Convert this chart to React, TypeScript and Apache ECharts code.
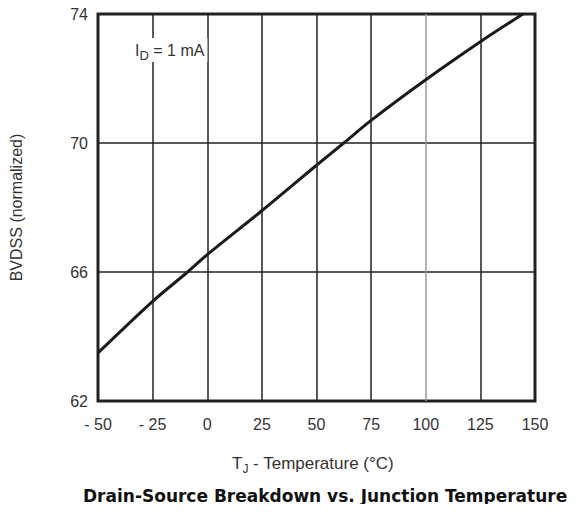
import React, { useEffect, useRef } from "react";
import * as echarts from "echarts";

const temps = [-50, -25, -9, 0, 25, 50, 62.5, 75, 100, 125, 144.5];
const bvdss = [63.49, 65.09, 66.0, 66.54, 67.9, 69.31, 70.0, 70.7, 71.96, 73.14, 74.0];
const xTicks = [-50, -25, 0, 25, 50, 75, 100, 125, 150];
const yTicks = [62, 66, 70, 74];

const FONT = "Liberation Sans, Arial, sans-serif";

export default function App() {
  const ref = useRef<HTMLDivElement>(null);
  useEffect(() => {
    if (!ref.current) return;
    const chart = echarts.init(ref.current, undefined, { renderer: "svg" });
    const gridColors = xTicks.map((t) => (t === 100 ? "#9a9a9a" : "#222"));
    chart.setOption({
      animation: false,
      backgroundColor: "#fff",
      grid: {
        left: 97,
        right: 44,
        top: 14,
        bottom: 111,
        show: true,
        borderColor: "#222",
        borderWidth: 3,
        backgroundColor: "transparent",
      },
      xAxis: {
        type: "value",
        min: -50,
        max: 150,
        interval: 25,
        axisLine: { show: false },
        axisTick: { show: false },
        axisLabel: {
          margin: 15,
          color: "#333",
          fontFamily: FONT,
          fontSize: 16,
          formatter: (v: number) => (v < 0 ? "- " + Math.abs(v) : String(v)),
        },
        splitLine: { show: true, lineStyle: { color: gridColors, width: 1.5 } },
      },
      yAxis: {
        type: "value",
        min: yTicks[0],
        max: yTicks[yTicks.length - 1],
        interval: 4,
        axisLine: { show: false },
        axisTick: { show: false },
        axisLabel: { margin: 10, color: "#333", fontFamily: FONT, fontSize: 16 },
        splitLine: { show: true, lineStyle: { color: "#222", width: 1.5 } },
        name: "BVDSS (normalized)",
        nameLocation: "middle",
        nameGap: 74,
        nameTextStyle: { color: "#333", fontFamily: FONT, fontSize: 16 },
      },
      series: [
        {
          type: "line",
          data: temps.map((t, i) => [t, bvdss[i]]),
          smooth: 0.3,
          symbol: "none",
          lineStyle: { color: "#1a1a1a", width: 3 },
          z: 5,
        },
      ],
      graphic: [
        {
          type: "text",
          left: 132,
          top: 38,
          z: 10,
          style: {
            text: "{n|I}{s|D}{n| = 1 mA}",
            backgroundColor: "#fff",
            padding: [4, 3, 2, 3],
            rich: {
              n: { fontFamily: FONT, fontSize: 16, lineHeight: 18, fill: "#333", verticalAlign: "top" },
              s: { fontFamily: FONT, fontSize: 13, lineHeight: 14, fill: "#333", padding: [7, 0, 0, 0], verticalAlign: "top" },
            },
          },
        },
        {
          type: "text",
          left: 232,
          top: 455,
          style: {
            text: "{n|T}{s|J}{n| - Temperature (°C)}",
            rich: {
              n: { fontFamily: FONT, fontSize: 17, lineHeight: 19, fill: "#333", verticalAlign: "top" },
              s: { fontFamily: FONT, fontSize: 12, lineHeight: 13, fill: "#333", padding: [8, 0, 0, 0], verticalAlign: "top" },
            },
          },
        },
        {
          type: "text",
          left: 83,
          top: 487,
          style: {
            text: "Drain-Source Breakdown vs. Junction Temperature",
            fontFamily: "DejaVu Sans, sans-serif",
            fontSize: 17,
            fontWeight: "bold",
            fill: "#111",
          },
        },
      ],
    });
    return () => chart.dispose();
  }, []);
  return <div ref={ref} style={{ width: 579, height: 512, margin: -8 }} />;
}
